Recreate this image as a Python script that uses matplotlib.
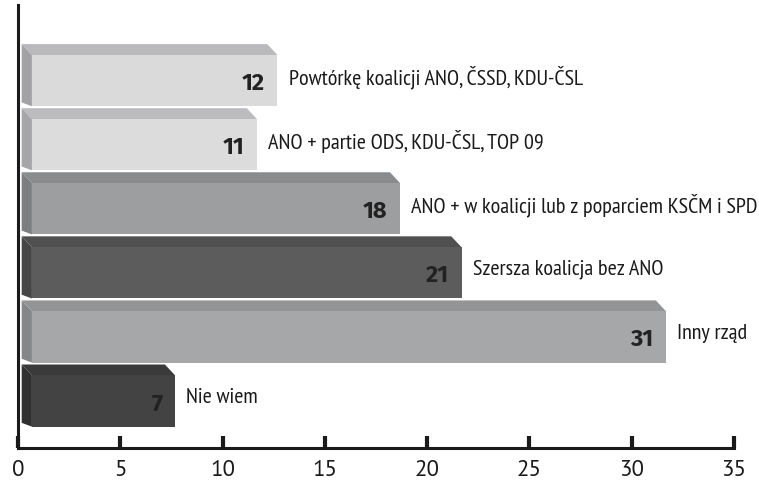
import matplotlib
matplotlib.use("Agg")
import matplotlib.pyplot as plt
from matplotlib.patches import Polygon

categories = [
    "Powtórkę koalicji ANO, ČSSD, KDU-ČSL",
    "ANO + partie ODS, KDU-ČSL, TOP 09",
    "ANO + w koalicji lub z poparciem KSČM i SPD",
    "Szersza koalicja bez ANO",
    "Inny rząd",
    "Nie wiem",
]
values = [12, 11, 18, 21, 31, 7]
front_colors = ["#dadadb", "#dcdcdd", "#9d9ea0", "#5c5c5d", "#a6a7a9", "#434344"]
top_colors = ["#b9b9bb", "#bcbcbe", "#8a8b8d", "#505051", "#939496", "#3a3a3b"]
side_colors = ["#a2a2a4", "#a6a6a8", "#7d7e80", "#464647", "#858688", "#303031"]
xticks = [0, 5, 10, 15, 20, 25, 30, 35]

FONT = ["PT Sans Narrow", "Fira Sans Condensed", "DejaVu Sans"]
BOLD = ["Fira Sans", "PT Sans", "DejaVu Sans"]

fig = plt.figure(figsize=(7.59, 4.84), dpi=100)
ax = fig.add_axes([18 / 759, 36 / 484, (734 - 18) / 759, 443 / 484])

n = len(values)
ypos = [n - 1 - i for i in range(n)]
h = 0.80
x0 = 0.68
dx = 0.5
dy = 0.17

ax.barh(ypos, values, height=h, left=x0, color=front_colors, edgecolor="none", zorder=3)

for y, v, tc, sc in zip(ypos, values, top_colors, side_colors):
    top = y + h / 2
    bot = y - h / 2
    x1 = x0 + v
    ax.add_patch(Polygon([(x0, top), (x0 - dx, top + dy), (x1 - dx, top + dy),
                          (x1, top)], closed=True, facecolor=tc, edgecolor="none", zorder=2))
    ax.add_patch(Polygon([(x0, bot), (x0 - dx, bot + dy * 0.35), (x0 - dx, top + dy),
                          (x0, top)], closed=True, facecolor=sc, edgecolor="none", zorder=2))
    ax.text(x1 - 0.62, y - 0.04, str(v), ha="right", va="center", fontsize=17,
            fontweight="bold", color="#222222", family=BOLD, zorder=4)

for y, v, c in zip(ypos, values, categories):
    ax.text(x0 + v + 0.55, y + 0.05, c, ha="left", va="center", fontsize=15.9,
            color="#1a1a1a", family=FONT, zorder=4)

ax.set_xlim(0, 35)
ax.set_ylim(-0.733, 6.18)
ax.set_xticks(xticks)
ax.set_xticklabels([str(t) for t in xticks], fontsize=16.5, family=["PT Sans", "DejaVu Sans"],
                   color="#1a1a1a")
ax.set_yticks([])
ax.tick_params(axis="x", direction="in", length=9, width=3, color="#1a1a1a", pad=9)
for s in ["top", "right"]:
    ax.spines[s].set_visible(False)
ax.spines["left"].set_linewidth(2.2)
ax.spines["bottom"].set_linewidth(2.2)
ax.spines["left"].set_color("#1a1a1a")
ax.spines["bottom"].set_color("#1a1a1a")
ax.set_facecolor("white")

fig.savefig("out.png", dpi=100)
